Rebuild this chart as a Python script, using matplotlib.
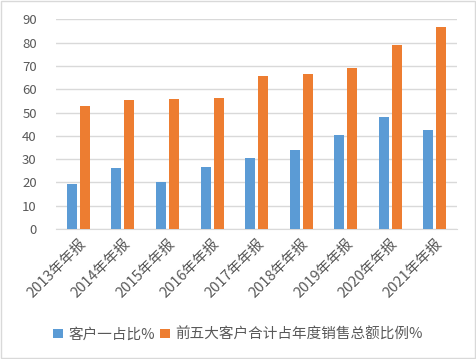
import matplotlib
matplotlib.use("Agg")
import matplotlib.pyplot as plt
import numpy as np

plt.rcParams['font.family'] = ['Noto Sans CJK SC', 'DejaVu Sans']

years = ["2013年年报", "2014年年报", "2015年年报", "2016年年报", "2017年年报",
         "2018年年报", "2019年年报", "2020年年报", "2021年年报"]
top1 = [19.3, 26.1, 20.1, 26.6, 30.4, 33.9, 40.3, 48.0, 42.4]
top5 = [52.7, 55.3, 55.7, 56.1, 65.6, 66.4, 69.0, 78.9, 86.6]

blue = "#5b9bd5"
orange = "#ed7d31"
grey = "#595959"

fig = plt.figure(figsize=(4.76, 3.59), dpi=100)
ax = fig.add_axes([0.118, 0.362, 0.842, 0.584])

x = np.arange(len(years))
ax.bar(x - 0.146, top1, width=0.224, color=blue, label="客户一占比%", zorder=3)
ax.bar(x + 0.146, top5, width=0.224, color=orange, label="前五大客户合计占年度销售总额比例%", zorder=3)

ax.set_xlim(-0.5, len(years) - 0.5)
ax.set_ylim(0, 90)
ax.set_yticks(range(0, 91, 10))
ax.yaxis.grid(True, color="#d9d9d9", linewidth=1, zorder=0)
for s in ["top", "right", "left"]:
    ax.spines[s].set_visible(False)
ax.spines["bottom"].set_color("#d9d9d9")
ax.tick_params(axis="both", length=0, colors=grey, labelsize=9.5)
ax.tick_params(axis="y", pad=14)
ax.tick_params(axis="x", labelsize=10.5, pad=5)
ax.set_xticks(x)
ax.set_xticklabels(years, rotation=45, ha="right", rotation_mode="anchor")

fig.legend(loc="center", bbox_to_anchor=(0.5, 0.068), ncol=2, frameon=False,
           fontsize=10.5, labelcolor=grey, handlelength=0.65, handleheight=0.65,
           handletextpad=0.35, columnspacing=0.4)

fig.patches.append(plt.Rectangle((0.002, 0.002), 0.995, 0.995, transform=fig.transFigure,
                                 fill=False, edgecolor="#d9d9d9", linewidth=1))

fig.savefig("out.png", dpi=100)
